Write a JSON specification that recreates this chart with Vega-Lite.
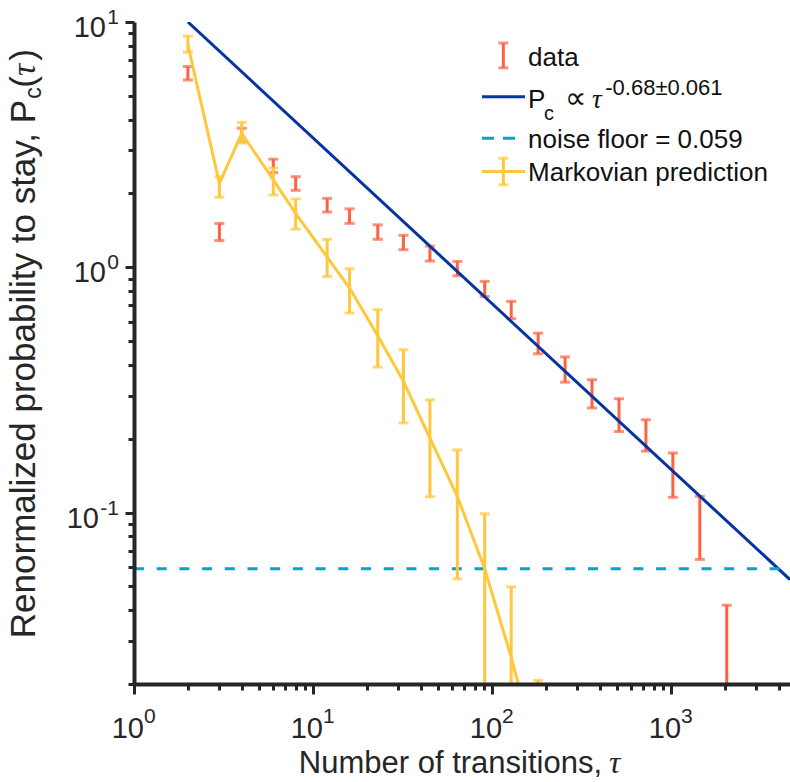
{
  "$schema": "https://vega.github.io/schema/vega-lite/v6.json",
  "width": 656,
  "height": 662,
  "autosize": "none",
  "padding": {"left": 134, "top": 22, "right": 0, "bottom": 98},
  "background": "white",
  "config": {"view": {"stroke": null}, "font": "Liberation Sans", "text": {"font": "Liberation Sans"}},
  "data": {"values": [{"one": 1}]},
  "datasets": {
    "obs": [
      {"t": 2, "lo": 5.80, "hi": 6.58},
      {"t": 3, "lo": 1.285, "hi": 1.51},
      {"t": 4, "lo": 3.25, "hi": 3.69},
      {"t": 6, "lo": 2.43, "hi": 2.76},
      {"t": 8, "lo": 2.06, "hi": 2.34},
      {"t": 12, "lo": 1.68, "hi": 1.91},
      {"t": 16, "lo": 1.51, "hi": 1.73},
      {"t": 23, "lo": 1.30, "hi": 1.49},
      {"t": 32, "lo": 1.18, "hi": 1.35},
      {"t": 45, "lo": 1.06, "hi": 1.22},
      {"t": 64, "lo": 0.923, "hi": 1.056},
      {"t": 91, "lo": 0.760, "hi": 0.876},
      {"t": 128, "lo": 0.617, "hi": 0.726},
      {"t": 181, "lo": 0.444, "hi": 0.539},
      {"t": 256, "lo": 0.340, "hi": 0.431},
      {"t": 362, "lo": 0.267, "hi": 0.348},
      {"t": 512, "lo": 0.214, "hi": 0.291},
      {"t": 724, "lo": 0.178, "hi": 0.239},
      {"t": 1024, "lo": 0.1154, "hi": 0.175},
      {"t": 1448, "lo": 0.0644, "hi": 0.1165},
      {"t": 2048, "lo": 0.004, "hi": 0.0419}
    ],
    "markov": [
      {"t": 2, "mid": 8.08, "lo": 7.53, "hi": 8.77},
      {"t": 3, "mid": 2.20, "lo": 1.93, "hi": 2.34},
      {"t": 4, "mid": 3.52, "lo": 3.21, "hi": 3.90},
      {"t": 6, "mid": 2.27, "lo": 1.97, "hi": 2.54},
      {"t": 8, "mid": 1.66, "lo": 1.43, "hi": 1.90},
      {"t": 12, "mid": 1.10, "lo": 0.917, "hi": 1.30},
      {"t": 16, "mid": 0.823, "lo": 0.651, "hi": 0.986},
      {"t": 23, "mid": 0.526, "lo": 0.392, "hi": 0.671},
      {"t": 32, "mid": 0.343, "lo": 0.232, "hi": 0.461},
      {"t": 45, "mid": 0.201, "lo": 0.116, "hi": 0.288},
      {"t": 64, "mid": 0.1165, "lo": 0.0537, "hi": 0.180},
      {"t": 91, "mid": 0.059, "lo": 0.004, "hi": 0.0989},
      {"t": 128, "mid": 0.0257, "lo": 0.004, "hi": 0.0498},
      {"t": 181, "mid": 0.01, "lo": 0.004, "hi": 0.0207}
    ],
    "fit": [
      {"t": 2, "p": 10},
      {"t": 4620, "p": 0.0533}
    ],
    "xlab": [
      {"v": 1, "e": "0"},
      {"v": 10, "e": "1"},
      {"v": 100, "e": "2"},
      {"v": 1000, "e": "3"}
    ],
    "ylab": [
      {"v": 10, "e": "1"},
      {"v": 1, "e": "0"},
      {"v": 0.1, "e": "-1"}
    ]
  },
  "layer": [
    {
      "data": {"name": "obs"},
      "mark": {"type": "rule", "color": "#FC6244", "strokeWidth": 3, "clip": true},
      "encoding": {
        "x": {"field": "t", "type": "quantitative", "scale": {"type": "log", "domain": [1, 4620], "nice": false},
          "axis": {"title": null, "labels": false, "grid": false,
            "values": [1,2,3,4,5,6,7,8,9,10,20,30,40,50,60,70,80,90,100,200,300,400,500,600,700,800,900,1000,2000,3000,4000],
            "domainColor": "#262626", "domainWidth": 4, "tickColor": "#262626", "tickWidth": 3,
            "tickSize": {"condition": {"test": "indexof([1,10,100,1000], datum.value) >= 0", "value": 10}, "value": 6},
            "zindex": 1}},
        "y": {"field": "lo", "type": "quantitative", "scale": {"type": "log", "domain": [0.02, 10], "nice": false},
          "axis": {"title": null, "labels": false, "grid": false,
            "values": [0.02,0.03,0.04,0.05,0.06,0.07,0.08,0.09,0.1,0.2,0.3,0.4,0.5,0.6,0.7,0.8,0.9,1,2,3,4,5,6,7,8,9,10],
            "domainColor": "#262626", "domainWidth": 4, "tickColor": "#262626", "tickWidth": 3,
            "tickSize": {"condition": {"test": "indexof([0.1,1,10], datum.value) >= 0", "value": 9}, "value": 6},
            "zindex": 1}},
        "y2": {"field": "hi"}
      }
    },
    {
      "data": {"name": "obs"},
      "mark": {"type": "tick", "orient": "horizontal", "color": "#FC6244", "size": 10, "thickness": 3, "clip": true},
      "encoding": {
        "x": {"field": "t", "type": "quantitative"},
        "y": {"field": "hi", "type": "quantitative"}
      }
    },
    {
      "data": {"name": "obs"},
      "mark": {"type": "tick", "orient": "horizontal", "color": "#FC6244", "size": 10, "thickness": 3, "clip": true},
      "encoding": {
        "x": {"field": "t", "type": "quantitative"},
        "y": {"field": "lo", "type": "quantitative"}
      }
    },
    {
      "data": {"name": "fit"},
      "mark": {"type": "line", "color": "#0433A3", "strokeWidth": 3, "clip": true},
      "encoding": {
        "x": {"field": "t", "type": "quantitative"},
        "y": {"field": "p", "type": "quantitative"}
      }
    },
    {
      "mark": {"type": "rule", "color": "#0AA3C2", "strokeWidth": 3, "strokeDash": [10, 12.7]},
      "encoding": {
        "x": {"datum": 1, "type": "quantitative"},
        "x2": {"datum": 4620},
        "y": {"datum": 0.059, "type": "quantitative"}
      }
    },
    {
      "data": {"name": "markov"},
      "mark": {"type": "line", "color": "#FFC83C", "strokeWidth": 3, "clip": true},
      "encoding": {
        "x": {"field": "t", "type": "quantitative"},
        "y": {"field": "mid", "type": "quantitative"}
      }
    },
    {
      "data": {"name": "markov"},
      "mark": {"type": "rule", "color": "#FFC83C", "strokeWidth": 3, "clip": true},
      "encoding": {
        "x": {"field": "t", "type": "quantitative"},
        "y": {"field": "lo", "type": "quantitative"},
        "y2": {"field": "hi"}
      }
    },
    {
      "data": {"name": "markov"},
      "mark": {"type": "tick", "orient": "horizontal", "color": "#FFC83C", "size": 10, "thickness": 3, "clip": true},
      "encoding": {
        "x": {"field": "t", "type": "quantitative"},
        "y": {"field": "hi", "type": "quantitative"}
      }
    },
    {
      "data": {"name": "markov"},
      "mark": {"type": "tick", "orient": "horizontal", "color": "#FFC83C", "size": 10, "thickness": 3, "clip": true},
      "encoding": {
        "x": {"field": "t", "type": "quantitative"},
        "y": {"field": "lo", "type": "quantitative"}
      }
    },
    {
      "mark": {"type": "rule", "color": "#FC6244", "strokeWidth": 3},
      "encoding": {
        "x": {"datum": 115.7, "type": "quantitative"},
        "y": {"datum": 6.50, "type": "quantitative"},
        "y2": {"datum": 8.21}
      }
    },
    {
      "mark": {"type": "tick", "orient": "horizontal", "color": "#FC6244", "size": 10, "thickness": 3},
      "encoding": {
        "x": {"datum": 115.7, "type": "quantitative"},
        "y": {"datum": 6.50, "type": "quantitative"}
      }
    },
    {
      "mark": {"type": "tick", "orient": "horizontal", "color": "#FC6244", "size": 10, "thickness": 3},
      "encoding": {
        "x": {"datum": 115.7, "type": "quantitative"},
        "y": {"datum": 8.21, "type": "quantitative"}
      }
    },
    {
      "mark": {"type": "rule", "color": "#0433A3", "strokeWidth": 3},
      "encoding": {
        "x": {"datum": 87.9, "type": "quantitative"},
        "x2": {"datum": 152.9},
        "y": {"datum": 4.96, "type": "quantitative"}
      }
    },
    {
      "mark": {"type": "rule", "color": "#0AA3C2", "strokeWidth": 3, "strokeDash": [12, 9]},
      "encoding": {
        "x": {"datum": 87.9, "type": "quantitative"},
        "x2": {"datum": 138},
        "y": {"datum": 3.36, "type": "quantitative"}
      }
    },
    {
      "mark": {"type": "rule", "color": "#FFC83C", "strokeWidth": 3},
      "encoding": {
        "x": {"datum": 87.9, "type": "quantitative"},
        "x2": {"datum": 152.9},
        "y": {"datum": 2.455, "type": "quantitative"}
      }
    },
    {
      "mark": {"type": "rule", "color": "#FFC83C", "strokeWidth": 3},
      "encoding": {
        "x": {"datum": 115.7, "type": "quantitative"},
        "y": {"datum": 2.168, "type": "quantitative"},
        "y2": {"datum": 2.786}
      }
    },
    {
      "mark": {"type": "tick", "orient": "horizontal", "color": "#FFC83C", "size": 10, "thickness": 3},
      "encoding": {
        "x": {"datum": 115.7, "type": "quantitative"},
        "y": {"datum": 2.168, "type": "quantitative"}
      }
    },
    {
      "mark": {"type": "tick", "orient": "horizontal", "color": "#FFC83C", "size": 10, "thickness": 3},
      "encoding": {
        "x": {"datum": 115.7, "type": "quantitative"},
        "y": {"datum": 2.786, "type": "quantitative"}
      }
    },
    {
      "mark": {"type": "text", "text": "data", "fontSize": 26, "align": "left", "baseline": "alphabetic", "color": "#111111"},
      "encoding": {"x": {"datum": 158.9, "type": "quantitative"}, "y": {"datum": 6.62, "type": "quantitative"}}
    },
    {
      "mark": {"type": "text", "text": "P", "fontSize": 26, "align": "left", "baseline": "alphabetic", "color": "#111111"},
      "encoding": {"x": {"datum": 158.9, "type": "quantitative"}, "y": {"datum": 4.45, "type": "quantitative"}}
    },
    {
      "mark": {"type": "text", "text": "c", "fontSize": 20, "align": "left", "baseline": "alphabetic", "color": "#111111"},
      "encoding": {"x": {"datum": 195.2, "type": "quantitative"}, "y": {"datum": 3.99, "type": "quantitative"}}
    },
    {
      "mark": {"type": "text", "text": "∝", "font": "DejaVu Sans", "fontSize": 30, "align": "left", "baseline": "alphabetic", "color": "#111111"},
      "encoding": {"x": {"datum": 255.7, "type": "quantitative"}, "y": {"datum": 4.45, "type": "quantitative"}}
    },
    {
      "mark": {"type": "text", "text": "τ", "font": "Liberation Serif", "fontStyle": "italic", "fontSize": 27, "align": "left", "baseline": "alphabetic", "color": "#111111"},
      "encoding": {"x": {"datum": 362, "type": "quantitative"}, "y": {"datum": 4.45, "type": "quantitative"}}
    },
    {
      "mark": {"type": "text", "text": "-0.68±0.061", "fontSize": 22, "align": "left", "baseline": "alphabetic", "color": "#111111"},
      "encoding": {"x": {"datum": 429, "type": "quantitative"}, "y": {"datum": 5.04, "type": "quantitative"}}
    },
    {
      "mark": {"type": "text", "text": "noise floor = 0.059", "fontSize": 26, "align": "left", "baseline": "alphabetic", "color": "#111111"},
      "encoding": {"x": {"datum": 158.9, "type": "quantitative"}, "y": {"datum": 3.076, "type": "quantitative"}}
    },
    {
      "mark": {"type": "text", "text": "Markovian prediction", "fontSize": 26, "align": "left", "baseline": "alphabetic", "color": "#111111"},
      "encoding": {"x": {"datum": 158.9, "type": "quantitative"}, "y": {"datum": 2.24, "type": "quantitative"}}
    },
    {
      "data": {"name": "xlab"},
      "mark": {"type": "text", "text": "10", "fontSize": 29, "align": "right", "baseline": "alphabetic", "dx": 10, "dy": 54, "color": "#262626"},
      "encoding": {"x": {"field": "v", "type": "quantitative"}, "y": {"datum": 0.02, "type": "quantitative"}}
    },
    {
      "data": {"name": "xlab"},
      "mark": {"type": "text", "fontSize": 21, "align": "left", "baseline": "alphabetic", "dx": 10, "dy": 39, "color": "#262626"},
      "encoding": {"x": {"field": "v", "type": "quantitative"}, "y": {"datum": 0.02, "type": "quantitative"}, "text": {"field": "e"}}
    },
    {
      "data": {"name": "ylab"},
      "transform": [{"filter": "datum.e != '-1'"}],
      "mark": {"type": "text", "text": "10", "fontSize": 29, "align": "right", "baseline": "alphabetic", "dx": -28, "dy": 15, "color": "#262626"},
      "encoding": {"x": {"datum": 1, "type": "quantitative"}, "y": {"field": "v", "type": "quantitative"}}
    },
    {
      "data": {"name": "ylab"},
      "transform": [{"filter": "datum.e == '-1'"}],
      "mark": {"type": "text", "text": "10", "fontSize": 29, "align": "right", "baseline": "alphabetic", "dx": -35, "dy": 15, "color": "#262626"},
      "encoding": {"x": {"datum": 1, "type": "quantitative"}, "y": {"field": "v", "type": "quantitative"}}
    },
    {
      "data": {"name": "ylab"},
      "mark": {"type": "text", "fontSize": 21, "align": "right", "baseline": "alphabetic", "dx": -15, "dy": 2, "color": "#262626"},
      "encoding": {"x": {"datum": 1, "type": "quantitative"}, "y": {"field": "v", "type": "quantitative"}, "text": {"field": "e"}}
    },
    {
      "mark": {"type": "text", "text": "Number of transitions,", "fontSize": 31, "align": "right", "baseline": "alphabetic", "color": "#262626"},
      "encoding": {"x": {"datum": 411.7, "type": "quantitative"}, "y": {"datum": 0.00868, "type": "quantitative"}}
    },
    {
      "mark": {"type": "text", "text": "τ", "font": "Liberation Serif", "fontStyle": "italic", "fontSize": 32, "align": "left", "baseline": "alphabetic", "color": "#262626"},
      "encoding": {"x": {"datum": 450.4, "type": "quantitative"}, "y": {"datum": 0.00868, "type": "quantitative"}}
    },
    {
      "mark": {"type": "text", "text": "Renormalized probability to stay, P", "angle": 270, "fontSize": 35, "align": "right", "baseline": "alphabetic", "color": "#262626"},
      "encoding": {"x": {"datum": 0.2798, "type": "quantitative"}, "y": {"datum": 4.81, "type": "quantitative"}}
    },
    {
      "mark": {"type": "text", "text": "c", "angle": 270, "fontSize": 23, "align": "left", "baseline": "alphabetic", "color": "#262626"},
      "encoding": {"x": {"datum": 0.3022, "type": "quantitative"}, "y": {"datum": 4.86, "type": "quantitative"}}
    },
    {
      "mark": {"type": "text", "text": "(", "angle": 270, "fontSize": 35, "align": "left", "baseline": "alphabetic", "color": "#262626"},
      "encoding": {"x": {"datum": 0.2798, "type": "quantitative"}, "y": {"datum": 5.40, "type": "quantitative"}}
    },
    {
      "mark": {"type": "text", "text": "τ", "angle": 270, "font": "Liberation Serif", "fontStyle": "italic", "fontSize": 34, "align": "left", "baseline": "alphabetic", "color": "#262626"},
      "encoding": {"x": {"datum": 0.2798, "type": "quantitative"}, "y": {"datum": 6.02, "type": "quantitative"}}
    },
    {
      "mark": {"type": "text", "text": ")", "angle": 270, "fontSize": 35, "align": "left", "baseline": "alphabetic", "color": "#262626"},
      "encoding": {"x": {"datum": 0.2798, "type": "quantitative"}, "y": {"datum": 6.95, "type": "quantitative"}}
    }
  ]
}
